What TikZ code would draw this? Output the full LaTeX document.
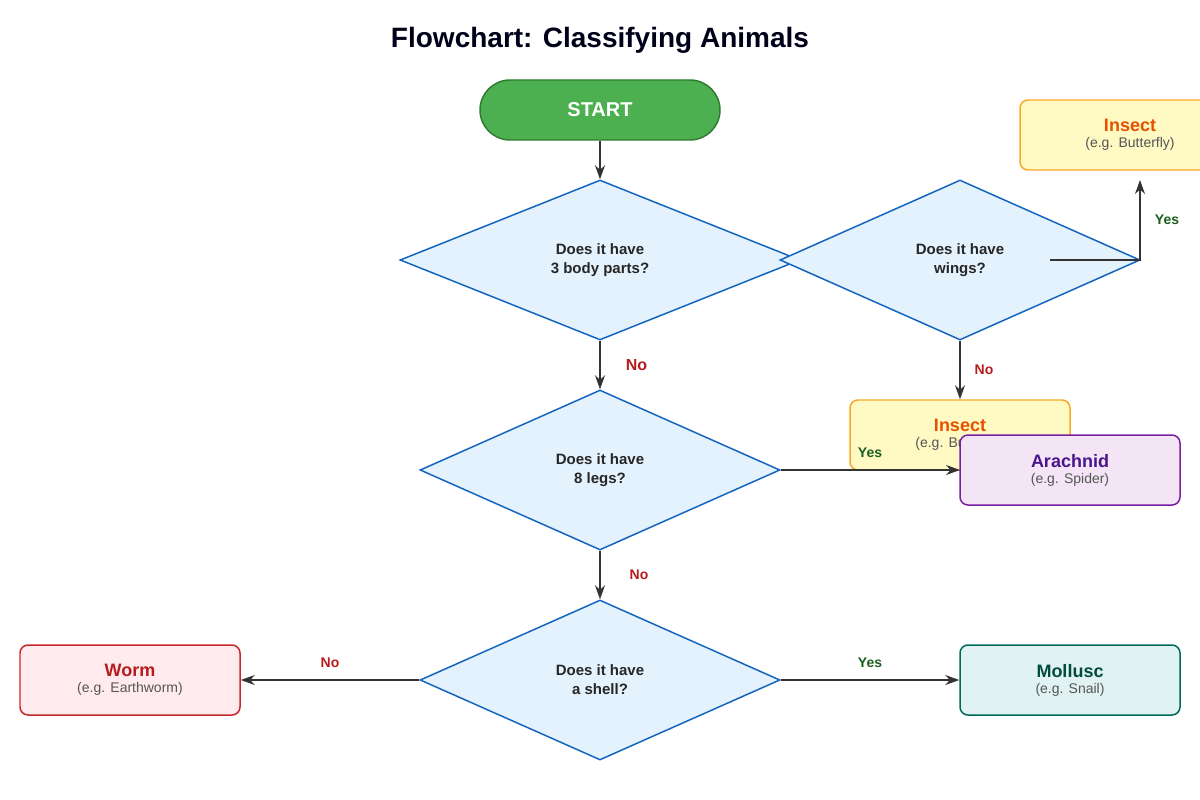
\documentclass[tikz,border=0pt]{standalone}
\usepackage{fontspec}
\setmainfont{Liberation Sans}
\usetikzlibrary{shapes.geometric,arrows.meta}
\definecolor{dfill}{HTML}{E3F2FD}\definecolor{dline}{HTML}{1565C0}
\definecolor{gfill}{HTML}{4CAF50}\definecolor{gline}{HTML}{2E7D32}
\definecolor{yfill}{HTML}{FFF9C4}\definecolor{yline}{HTML}{F9A825}\definecolor{ytext}{HTML}{E65100}
\definecolor{pfill}{HTML}{F3E5F5}\definecolor{pline}{HTML}{7B1FA2}\definecolor{ptext}{HTML}{4A148C}
\definecolor{rfill}{HTML}{FFEBEE}\definecolor{rline}{HTML}{C62828}\definecolor{rtext}{HTML}{B71C1C}
\definecolor{tfill}{HTML}{E0F2F1}\definecolor{tline}{HTML}{00695C}\definecolor{ttext}{HTML}{004D40}
\definecolor{yes}{HTML}{1B5E20}\definecolor{no}{HTML}{B71C1C}\definecolor{arr}{HTML}{333333}
\definecolor{sub}{HTML}{555555}
\tikzset{
 dec/.style={diamond,aspect=2.25,fill=dfill,draw=dline,line width=1.5pt,inner sep=0,minimum width=#1,minimum height=160bp,align=center,font=\fontsize{15bp}{19bp}\selectfont\bfseries,text=black!85},
 box/.style={rectangle,rounded corners=8bp,line width=1.5pt,minimum width=220bp,minimum height=70bp,align=center},
 con/.style={draw=arr,line width=1.2pt,-{Stealth[length=14bp,width=10bp]}},
 lyes/.style={text=yes,font=\fontsize{14bp}{16bp}\selectfont\bfseries},
 lno/.style={text=no,font=\fontsize{14bp}{16bp}\selectfont\bfseries},
}
\newcommand{\bx}[3]{{\fontsize{18bp}{22bp}\selectfont\bfseries\color{#1}#2}\\[4bp]{\fontsize{14bp}{16bp}\selectfont\color{sub}#3}}
\begin{document}
\begin{tikzpicture}[x=1bp,y=-1bp]
\useasboundingbox (0,0) rectangle (1200,800);
\node[font=\fontsize{28bp}{32bp}\selectfont\bfseries,text=black!90!blue] (title) at (600,40) {Flowchart: Classifying Animals};
\node[rectangle,rounded corners=30bp,fill=gfill,draw=gline,line width=1.5pt,minimum width=240bp,minimum height=60bp,text=white,font=\fontsize{20bp}{24bp}\selectfont\bfseries] (start) at (600,110) {START};
\node[dec=400bp] (d1) at (600,260) {Does it have\\3 body parts?};
\node[dec=360bp] (d2) at (960,260) {Does it have\\wings?};
\node[dec=360bp] (d3) at (600,470) {Does it have\\8 legs?};
\node[dec=360bp] (d4) at (600,680) {Does it have\\a shell?};
\node[box,fill=yfill,draw=yline] (i1) at (1130,135) {\bx{ytext}{Insect}{(e.g. Butterfly)}};
\node[box,fill=yfill,draw=yline] (i2) at (960,435) {\bx{ytext}{Insect}{(e.g. Butterfly)}};
\node[box,fill=rfill,draw=rline] (worm) at (130,680) {\bx{rtext}{Worm}{(e.g. Earthworm)}};
\node[box,fill=tfill,draw=tline] (moll) at (1070,680) {\bx{ttext}{Mollusc}{(e.g. Snail)}};
\coordinate (w0) at (1050,260);
\coordinate (w1) at (1140,260);
\coordinate (w2) at (1140,180);
\draw[con] (start) -- (d1);
\draw[con] (d1) -- (d3) node[pos=0.5,right=22bp,text=no,font=\fontsize{16bp}{18bp}\selectfont\bfseries] {No};
\draw[con] (w0) -- (w1) -- (w2);
\node[lyes] (ly1) at (1167,220) {Yes};
\draw[con] (d2.south) -- (i2.north);
\node[lno] (ln1) at (984,370) {No};
\draw[con] (d3.east) -- (960,470);
\node[lyes] (ly2) at (870,453) {Yes};
\node[box,fill=pfill,draw=pline] (ara) at (1070,470) {\bx{ptext}{Arachnid}{(e.g. Spider)}};
\draw[con] (d3) -- (d4);
\node[lno] (ln2) at (639,575) {No};
\draw[con] (d4.west) -- (worm.east);
\node[lno] (ln3) at (330,663) {No};
\draw[con] (d4.east) -- (moll.west);
\node[lyes] (ly3) at (870,663) {Yes};
\end{tikzpicture}
\end{document}
